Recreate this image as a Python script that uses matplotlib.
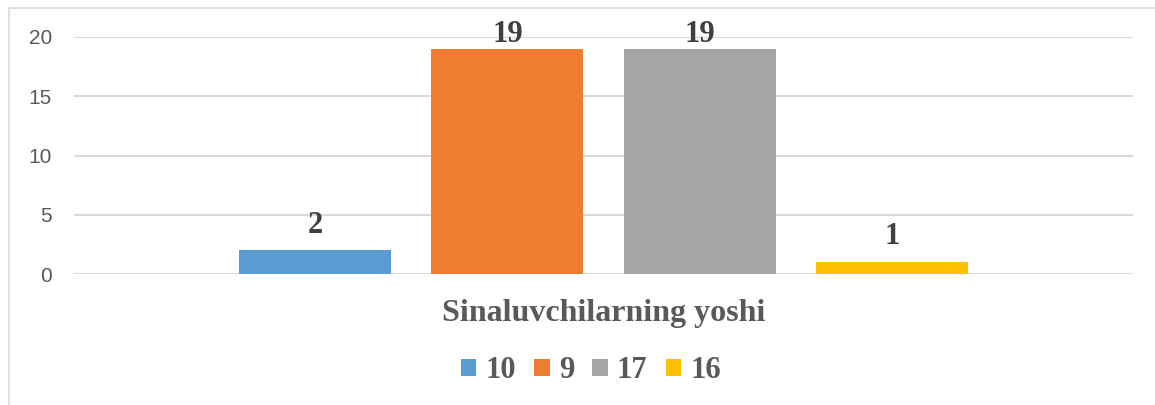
import matplotlib.pyplot as plt
from matplotlib.patches import Rectangle

series = ["10", "9", "17", "16"]
values = [2, 19, 19, 1]
colors = ["#5B9BD5", "#ED7D31", "#A5A5A5", "#FFC000"]
category = "Sinaluvchilarning yoshi"

fig = plt.figure(figsize=(11.55, 4.05), dpi=100)
ax = fig.add_axes([74/1155, 1-274/405, (1133-74)/1155, (274-37)/405])

step = 0.1815
width = 0.1435
for i, (s, v, c) in enumerate(zip(series, values, colors)):
    x = 0.5 + (i - 1.5) * step
    ax.bar(x, v, width=width, color=c, label=s, zorder=3)
    # label sits above the bar, kept inside the chart near the top like Excel does
    ax.text(x, min(v + 1.5, 19.58), str(v), ha="center", va="baseline",
            fontsize=22, fontweight="bold", family="Liberation Serif",
            color="#404040", zorder=4)

ax.set_xlim(0, 1)
ax.set_ylim(0, 20)
ax.set_yticks([0, 5, 10, 15, 20])
ax.set_xticks([])
ax.grid(axis="y", color="#d9d9d9", linewidth=1.5, zorder=0)
for sp in ax.spines.values():
    sp.set_visible(False)
ax.tick_params(axis="y", length=0, pad=16, labelsize=15, labelcolor="#595959")
for t in ax.get_yticklabels():
    t.set_family("Liberation Sans")

cx = 0.5 + (74 + 1133 - 1155) / 2 / 1155
fig.text(cx, 1-313/405, category, ha="center", va="center",
         fontsize=23, fontweight="bold", family="Liberation Serif", color="#595959")

leg = fig.legend(loc="center", bbox_to_anchor=(591/1155, 1-371/405),
                 ncol=4, frameon=False, handlelength=0.5, handleheight=0.5,
                 handletextpad=0.3, columnspacing=0.6,
                 prop={"family": "Liberation Serif", "weight": "bold", "size": 22})
for t in leg.get_texts():
    t.set_color("#595959")

fig.patches.append(Rectangle((9/1155, -0.1), 1.2, 1-8/405+0.1, transform=fig.transFigure,
                             fill=False, edgecolor="#d9d9d9", linewidth=1.2))

fig.savefig("out.png", dpi=100)
